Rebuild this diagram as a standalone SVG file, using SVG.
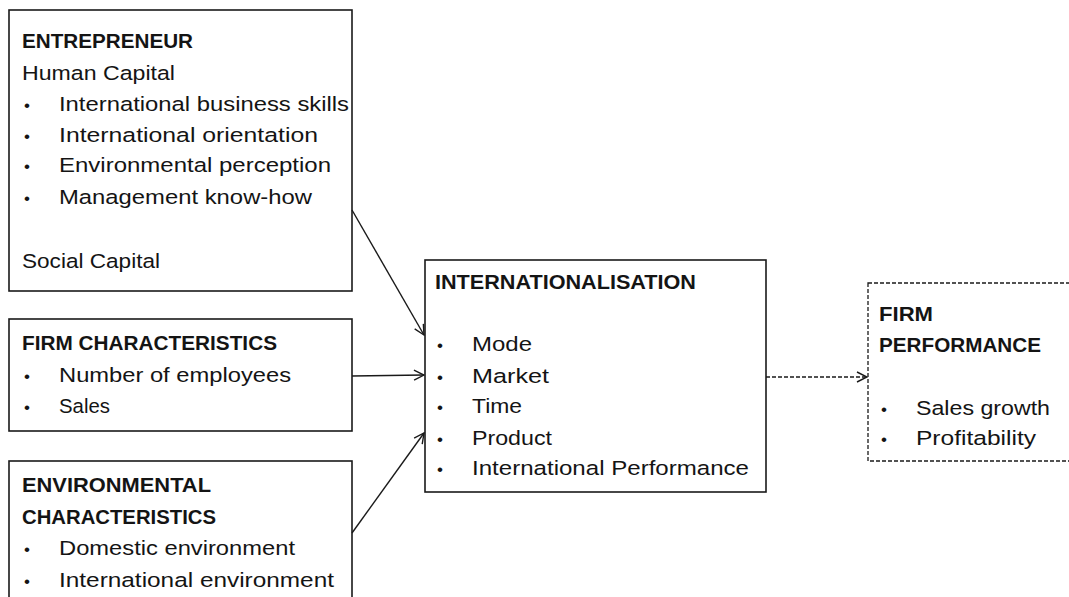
<svg xmlns="http://www.w3.org/2000/svg" width="1069" height="597" viewBox="0 0 1069 597">
  <style>
    .box { fill: #ffffff; stroke: #1a1a1a; stroke-width: 1.6; }
    .dbox { fill: #ffffff; stroke: #1a1a1a; stroke-width: 1.3; stroke-dasharray: 4 2; }
    text { font-family: "Liberation Sans", Arial, sans-serif; font-size: 20.5px; fill: #141414; }
    .h { font-weight: bold; }
    .b { font-size: 17px; }
    .conn { stroke: #1a1a1a; stroke-width: 1.4; fill: none; }
    .dash { stroke-dasharray: 4 2; }
  </style>
  <defs>
    <marker id="arrow" viewBox="0 0 12 12" refX="11" refY="6" markerWidth="12" markerHeight="12" markerUnits="userSpaceOnUse" orient="auto">
      <path d="M1,1 L11,6 L1,11" fill="none" stroke="#1a1a1a" stroke-width="1.4"/>
    </marker>
  </defs>
  <rect width="1069" height="597" fill="#ffffff"/>

  <g id="entrepreneur">
    <rect class="box" x="9" y="10" width="343" height="281"/>
    <text class="h" x="22" y="48" textLength="171" lengthAdjust="spacingAndGlyphs">ENTREPRENEUR</text>
    <text x="22" y="80" textLength="153" lengthAdjust="spacingAndGlyphs">Human Capital</text>
    <text class="b" x="24" y="111">•</text>
    <text x="59" y="111" textLength="290" lengthAdjust="spacingAndGlyphs">International business  skills</text>
    <text class="b" x="24" y="142">•</text>
    <text x="59" y="142" textLength="259" lengthAdjust="spacingAndGlyphs">International orientation</text>
    <text class="b" x="24" y="172">•</text>
    <text x="59" y="172" textLength="272" lengthAdjust="spacingAndGlyphs">Environmental perception</text>
    <text class="b" x="24" y="204">•</text>
    <text x="59" y="204" textLength="253" lengthAdjust="spacingAndGlyphs">Management know-how</text>
    <text x="22" y="268" textLength="138" lengthAdjust="spacingAndGlyphs">Social Capital</text>
  </g>

  <g id="firm-characteristics">
    <rect class="box" x="9" y="319" width="343" height="112"/>
    <text class="h" x="22" y="350" textLength="255" lengthAdjust="spacingAndGlyphs">FIRM CHARACTERISTICS</text>
    <text class="b" x="24" y="382">•</text>
    <text x="59" y="382" textLength="232" lengthAdjust="spacingAndGlyphs">Number of employees</text>
    <text class="b" x="24" y="413">•</text>
    <text x="59" y="413" textLength="51" lengthAdjust="spacingAndGlyphs">Sales</text>
  </g>

  <g id="environmental-characteristics">
    <rect class="box" x="9" y="461" width="343" height="150"/>
    <text class="h" x="22" y="492" textLength="189" lengthAdjust="spacingAndGlyphs">ENVIRONMENTAL</text>
    <text class="h" x="22" y="524" textLength="194" lengthAdjust="spacingAndGlyphs">CHARACTERISTICS</text>
    <text class="b" x="24" y="555">•</text>
    <text x="59" y="555" textLength="236" lengthAdjust="spacingAndGlyphs">Domestic environment</text>
    <text class="b" x="24" y="587">•</text>
    <text x="59" y="587" textLength="275" lengthAdjust="spacingAndGlyphs">International environment</text>
  </g>

  <g id="internationalisation">
    <rect class="box" x="425" y="260" width="341" height="232"/>
    <text class="h" x="435" y="289" textLength="261" lengthAdjust="spacingAndGlyphs">INTERNATIONALISATION</text>
    <text class="b" x="437" y="351">•</text>
    <text x="472" y="351" textLength="60" lengthAdjust="spacingAndGlyphs">Mode</text>
    <text class="b" x="437" y="383">•</text>
    <text x="472" y="383" textLength="77" lengthAdjust="spacingAndGlyphs">Market</text>
    <text class="b" x="437" y="413">•</text>
    <text x="472" y="413" textLength="50" lengthAdjust="spacingAndGlyphs">Time</text>
    <text class="b" x="437" y="445">•</text>
    <text x="472" y="445" textLength="80" lengthAdjust="spacingAndGlyphs">Product</text>
    <text class="b" x="437" y="475">•</text>
    <text x="472" y="475" textLength="277" lengthAdjust="spacingAndGlyphs">International Performance</text>
  </g>

  <g id="firm-performance">
    <rect class="dbox" x="868" y="283" width="220" height="178"/>
    <text class="h" x="879" y="321" textLength="54" lengthAdjust="spacingAndGlyphs">FIRM</text>
    <text class="h" x="879" y="352" textLength="162" lengthAdjust="spacingAndGlyphs">PERFORMANCE</text>
    <text class="b" x="881" y="415">•</text>
    <text x="916" y="415" textLength="134" lengthAdjust="spacingAndGlyphs">Sales growth</text>
    <text class="b" x="881" y="445">•</text>
    <text x="916" y="445" textLength="120" lengthAdjust="spacingAndGlyphs">Profitability</text>
  </g>

  <g id="connectors">
    <line class="conn" x1="352" y1="210" x2="424" y2="335" marker-end="url(#arrow)"/>
    <line class="conn" x1="352" y1="376" x2="424" y2="375" marker-end="url(#arrow)"/>
    <line class="conn" x1="352" y1="533" x2="424" y2="433" marker-end="url(#arrow)"/>
    <line class="conn dash" x1="766" y1="377" x2="867" y2="377" marker-end="url(#arrow)"/>
  </g>
</svg>
